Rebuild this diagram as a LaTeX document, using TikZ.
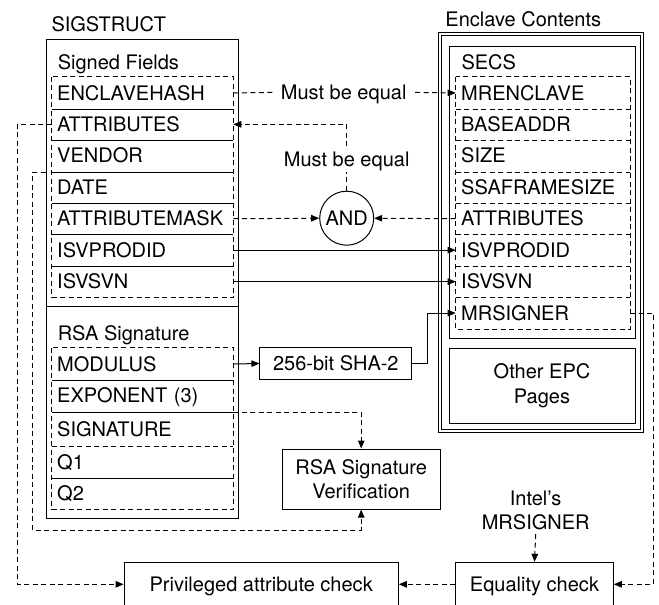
\documentclass[tikz,border=0pt]{standalone}
\usepackage{fontspec}
\setmainfont{TeX Gyre Heros}
\usetikzlibrary{arrows.meta}
\begin{document}
\begin{tikzpicture}[x=1pt,y=-1pt, font=\fontsize{20}{24.4}\selectfont, line width=1pt,
 dsh/.style={dash pattern=on 5pt off 3.5pt},
 arr/.style={-{Triangle[length=8pt,width=6.5pt]}},
 row/.style={anchor=north west, text width=170.6pt, inner xsep=5pt, inner ysep=0pt, align=left, text height=14.3pt, text depth=0pt, minimum height=31.45pt},
 srow/.style={row, text width=163.3pt},
 lbl/.style={inner sep=0pt, text height=14.3pt, text depth=0pt},
 box/.style={draw, inner sep=0pt, align=center},
 sbox/.style={box, text height=14.3pt, text depth=0pt}]
\useasboundingbox (0,0) rectangle (659,605);
\clip (0,0) rectangle (659,605);

% titles
\node[lbl, anchor=west] (sigtitle) at (51,24.5) {SIGSTRUCT};
\node[lbl] (enctitle) at (523.3,19.7) {Enclave Contents};

% outer boxes
\node[draw, inner sep=0pt, minimum width=192.6pt, minimum height=479pt, anchor=north west] (sigstruct) at (45.7,39.3) {};
\node[draw, double, double distance=1.8pt, inner sep=0pt, minimum width=201.4pt, minimum height=397pt, anchor=north west] (enclave) at (439.8,33.2) {};
\node[draw, inner sep=0pt, minimum width=186pt, minimum height=291.8pt, anchor=north west] (secs) at (449,45.7) {};
\coordinate (sep) at (0,306.5);
\draw[line width=1.6pt] (sigstruct.west |- sep) -- (sigstruct.east |- sep);

\node[lbl, anchor=west] (signedtitle) at (57.3,62.2) {Signed Fields};
\node[lbl, anchor=west] (rsatitle) at (57.3,333.3) {RSA Signature};
\node[lbl, anchor=west] (secstitle) at (461,62.5) {SECS};

% SIGSTRUCT signed fields
\node[row] (enclavehash) at (51.7,76.7) {ENCLAVEHASH};
\node[row] (attributes) at (51.7,108.15) {ATTRIBUTES};
\node[row] (vendor) at (51.7,139.6) {VENDOR};
\node[row] (date) at (51.7,171.05) {DATE};
\node[row] (attributemask) at (51.7,202.5) {ATTRIBUTEMASK};
\node[row] (isvprodid) at (51.7,233.95) {ISVPRODID};
\node[row] (isvsvn) at (51.7,265.4) {ISVSVN};
\foreach \r in {enclavehash,attributes,vendor,date,attributemask,isvprodid}
  \draw (\r.south west) -- (\r.south east);
\draw[dsh] (enclavehash.north west) rectangle (isvsvn.south east);

% RSA signature
\node[row, minimum height=31.6pt] (modulus) at (51.7,347.7) {MODULUS};
\node[row, minimum height=31.7pt] (exponent) at (51.7,379.3) {EXPONENT (3)};
\node[row, minimum height=34.7pt] (signature) at (51.7,411) {SIGNATURE};
\node[row, minimum height=31.6pt] (q1) at (51.7,445.7) {Q1};
\node[row, minimum height=31pt] (q2) at (51.7,477.3) {Q2};
\foreach \r in {modulus,exponent,q1}
  \draw (\r.south west) -- (\r.south east);
\draw[dsh] (signature.south west) -- (signature.south east);
\draw[dsh] (modulus.north west) rectangle (q2.south east);

% SECS
\node[srow] (mrenclave) at (455.7,76.7) {MRENCLAVE};
\node[srow] (baseaddr) at (455.7,108.15) {BASEADDR};
\node[srow] (size) at (455.7,139.6) {SIZE};
\node[srow] (ssaframesize) at (455.7,171.05) {SSAFRAMESIZE};
\node[srow] (sattributes) at (455.7,202.5) {ATTRIBUTES};
\node[srow] (sisvprodid) at (455.7,233.95) {ISVPRODID};
\node[srow] (sisvsvn) at (455.7,265.4) {ISVSVN};
\node[srow] (mrsigner) at (455.7,296.85) {MRSIGNER};
\foreach \r in {mrenclave,baseaddr,size,ssaframesize,sattributes,sisvprodid,sisvsvn}
  \draw[dsh] (\r.south west) -- (\r.south east);
\draw[dsh] (mrenclave.north west) rectangle (mrsigner.south east);

\node[box, minimum width=186pt, minimum height=75pt] (other) at (542,385.8) {Other EPC\\Pages};

% middle elements
\node[lbl, inner xsep=8pt] (must1) at (343.7,92.4) {Must be equal};
\node[lbl, inner ysep=5.2pt] (must2) at (346.7,159.3) {Must be equal};
\node[draw, circle, minimum size=54pt, inner sep=0pt, text height=14.3pt, text depth=0pt] (and) at (346.7,218.2) {AND};
\node[sbox, minimum width=151.7pt, minimum height=31.6pt] (sha) at (335.8,363.5) {256-bit SHA-2};
\node[box, minimum width=157.7pt, minimum height=60pt] (rsaver) at (361.2,479) {RSA Signature\\Verification};
\node[align=center, inner xsep=0pt, inner ysep=3.5pt] (intel) at (535.7,510.5) {Intel’s\\MRSIGNER};
\node[sbox, minimum width=274.3pt, minimum height=44pt] (priv) at (261.2,584.3) {Privileged attribute check};
\node[sbox, minimum width=157.6pt, minimum height=44pt] (eq) at (534.5,584.3) {Equality check};

% connectors
\draw[dsh] (enclavehash.east) -- (must1.west);
\draw[dsh,arr] (must1.east) -- (mrenclave.west);
\draw[dsh] (and.north) -- (must2.south);
\draw[dsh,arr] (must2.north) |- (attributes.east);
\draw[dsh,arr] (attributemask.east) -- (and.west);
\draw[dsh,arr] (sattributes.west) -- (and.east);
\draw[arr] (isvprodid.east) -- (sisvprodid.west);
\draw[arr] (isvsvn.east) -- (sisvsvn.west);
\draw[arr] (modulus.east) -- (sha.west);
\draw[arr] (sha.east) -- ++(15.6,0) |- (mrsigner.west);
\draw[dsh,arr] (exponent.south east) -| (rsaver.north);
\coordinate (lb) at (32.7,530);
\draw[dsh,arr] (sigstruct.west |- vendor.south) -| (lb) -| (rsaver.south);
\coordinate (la) at (17.3,584.3);
\draw[dsh,arr] (attributes.west) -| (la) -- (priv.west);
\coordinate (rc) at (653.3,584.3);
\draw[dsh,arr] (mrsigner.east) -| (rc) -- (eq.east);
\draw[dsh,arr] (eq.west) -- (priv.east);
\draw[dsh,arr] (intel.south) -- (eq.north);
\end{tikzpicture}
\end{document}
